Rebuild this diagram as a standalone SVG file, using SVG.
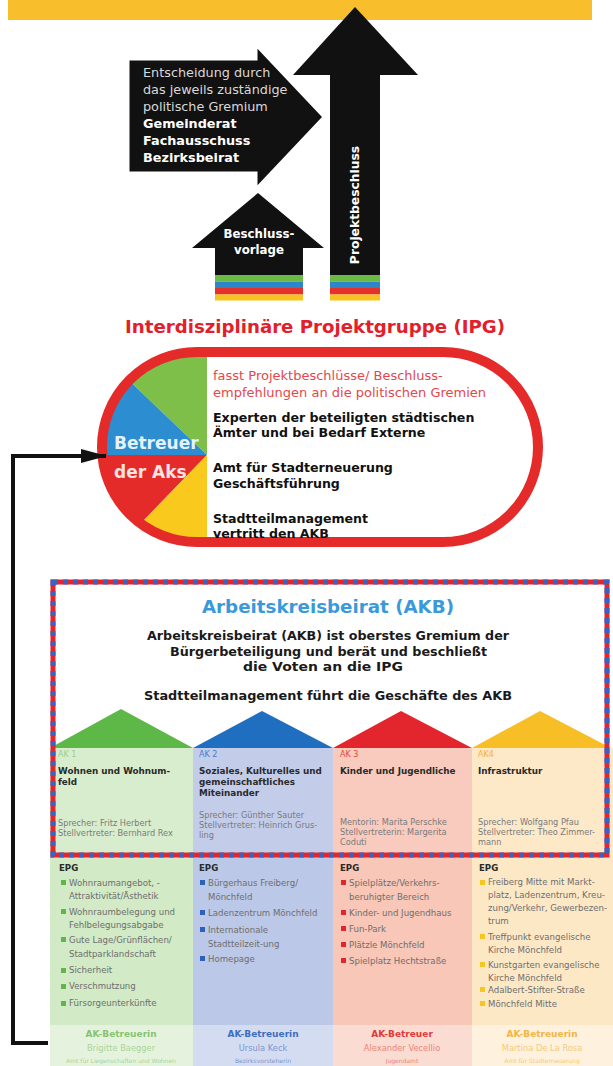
<svg xmlns="http://www.w3.org/2000/svg" width="613" height="1066" viewBox="0 0 613 1066">
<style>
text{font-family:"DejaVu Sans","Liberation Sans",sans-serif;}
.b{font-weight:700}
.wt{fill:#ffffff}
.lg{fill:#d9d9d9}
.ipg{fill:#111111;font-weight:700;font-size:12.6px}
.akb{fill:#1a1a1a;font-weight:700;font-size:12.6px}
.aknum{font-size:8px}
.aktitle{fill:#2a2a2a;font-weight:700;font-size:8.8px}
.sp{fill:#7a7a7a;font-size:8.2px}
.epg{fill:#2a2a2a;font-weight:700;font-size:8.6px}
.it{fill:#6e6e6e;font-size:8.6px}
.bt{font-weight:700;font-size:9px}
.nm{font-size:8.3px}
.dp{font-size:6px}
</style>
<defs>
<clipPath id="stad"><rect x="102" y="352" width="436" height="190" rx="95" ry="95"/></clipPath>
<marker id="ah" markerWidth="26" markerHeight="14" refX="25" refY="7" orient="auto" markerUnits="userSpaceOnUse" viewBox="0 0 26 14">
<path d="M0,0 L26,7 L0,14 Z" fill="#111"/>
</marker>
</defs>
<rect width="613" height="1066" fill="#ffffff"/>

<g id="banner">
<rect x="8" y="0" width="584" height="20" fill="#F8BE2B"/>
</g>

<g id="projektbeschluss">
<polygon points="355,7 418,75 380,75 380,275 330,275 330,75 293,75" fill="#111111"/>
<rect x="330" y="275" width="50" height="6.5" fill="#6ABA45"/>
<rect x="330" y="281.5" width="50" height="6.5" fill="#2E86C9"/>
<rect x="330" y="288" width="50" height="6.5" fill="#E4312B"/>
<rect x="330" y="294.5" width="50" height="6" fill="#F8C21F"/>
<text class="b wt" font-size="12.3" transform="translate(355,205) rotate(-90)" text-anchor="middle" dominant-baseline="central">Projektbeschluss</text>
</g>

<g id="entscheidung">
<polygon points="128,59 256,59 256,45 324,117 256,189 256,173 128,173" fill="#111111" stroke="#ffffff" stroke-width="3" stroke-linejoin="miter"/>
<text class="lg" font-size="12.8" x="143" y="77">Entscheidung durch</text>
<text class="lg" font-size="12.8" x="143" y="94">das jeweils zuständige</text>
<text class="lg" font-size="12.8" x="143" y="111">politische Gremium</text>
<text class="b wt" font-size="12.8" x="143" y="128">Gemeinderat</text>
<text class="b wt" font-size="12.8" x="143" y="145">Fachausschuss</text>
<text class="b wt" font-size="12.8" x="143" y="162">Bezirksbeirat</text>
</g>

<g id="beschlussvorlage">
<polygon points="258,193 324,248 303,248 303,275 215,275 215,248 192,248" fill="#111111"/>
<rect x="215" y="275" width="88" height="6.5" fill="#6ABA45"/>
<rect x="215" y="281.5" width="88" height="6.5" fill="#2E86C9"/>
<rect x="215" y="288" width="88" height="6.5" fill="#E4312B"/>
<rect x="215" y="294.5" width="88" height="6" fill="#F8C21F"/>
<text class="b wt" font-size="11.8" x="259" y="238" text-anchor="middle">Beschluss-</text>
<text class="b wt" font-size="11.8" x="259" y="254" text-anchor="middle">vorlage</text>
</g>

<g id="ipg">
<text class="b" font-size="17.5" fill="#E3202A" x="125" y="333" textLength="380" lengthAdjust="spacingAndGlyphs">Interdisziplinäre Projektgruppe (IPG)</text>
<rect x="102" y="352" width="436" height="190" rx="95" ry="95" fill="#ffffff"/>
<g clip-path="url(#stad)">
<polygon points="207,455 207,300 50,300 50,305" fill="#7DBF48"/>
<polygon points="207,455 50,305 50,455" fill="#2C8DD0"/>
<polygon points="207,455 50,455 50,617" fill="#E52A2A"/>
<polygon points="207,455 50,617 50,660 207,660" fill="#F9C91E"/>
</g>
<rect x="102" y="352" width="436" height="190" rx="95" ry="95" fill="none" stroke="#E52A2A" stroke-width="10"/>
<text class="b" font-size="17" fill="#e6f2fb" x="114" y="449">Betreuer</text>
<text class="b" font-size="17" fill="#fbe3e1" x="114" y="478">der Aks</text>
<text font-size="13" fill="#E5464B" x="213" y="380">fasst Projektbeschlüsse/ Beschluss-</text>
<text font-size="13" fill="#E5464B" x="213" y="397">empfehlungen an die politischen Gremien</text>
<text class="ipg" x="213" y="422">Experten der beteiligten städtischen</text>
<text class="ipg" x="213" y="437">Ämter und bei Bedarf Externe</text>
<text class="ipg" x="213" y="472">Amt für Stadterneuerung</text>
<text class="ipg" x="213" y="488">Geschäftsführung</text>
<text class="ipg" x="213" y="523">Stadtteilmanagement</text>
<text class="ipg" x="213" y="538">vertritt den AKB</text>
</g>

<g id="ak1">
<rect x="50" y="748" width="143" height="107" fill="#D8EDCE"/>
<rect x="50" y="855" width="143" height="170" fill="#D2EAC5"/>
<rect x="50" y="1025" width="143" height="41" fill="#E5F3DE"/>
<polygon points="50,748 121,709 193,748" fill="#5DB847"/>
<text class="aknum" fill="#9ccf88" x="58" y="757">AK 1</text>
<text class="aktitle" x="58" y="774">Wohnen und Wohnum-</text>
<text class="aktitle" x="58" y="785">feld</text>
<text class="sp" x="58" y="826">Sprecher: Fritz Herbert</text>
<text class="sp" x="58" y="836">Stellvertreter: Bernhard Rex</text>
<text class="epg" x="59" y="871">EPG</text>
<g fill="#5DB847">
<rect x="61" y="880" width="5" height="5"/><rect x="61" y="909" width="5" height="5"/><rect x="61" y="937" width="5" height="5"/>
<rect x="61" y="968" width="5" height="5"/><rect x="61" y="984" width="5" height="5"/><rect x="61" y="1001" width="5" height="5"/>
</g>
<text class="it" x="69" y="886">Wohnraumangebot, -</text>
<text class="it" x="69" y="899">Attraktivität/Ästhetik</text>
<text class="it" x="69" y="915">Wohnraumbelegung und</text>
<text class="it" x="69" y="928">Fehlbelegungsabgabe</text>
<text class="it" x="69" y="943">Gute Lage/Grünflächen/</text>
<text class="it" x="69" y="957">Stadtparklandschaft</text>
<text class="it" x="69" y="973">Sicherheit</text>
<text class="it" x="69" y="989">Verschmutzung</text>
<text class="it" x="69" y="1006">Fürsorgeunterkünfte</text>
<text class="bt" fill="#86c472" x="121" y="1037" text-anchor="middle">AK-Betreuerin</text>
<text class="nm" fill="#a9d49a" x="121" y="1051" text-anchor="middle">Brigitte Baegger</text>
<text class="dp" fill="#a9d49a" x="121" y="1063" text-anchor="middle">Amt für Liegenschaften und Wohnen</text>
</g>

<g id="ak2">
<rect x="193" y="748" width="140" height="107" fill="#C3CDEA"/>
<rect x="193" y="855" width="140" height="170" fill="#BCC8E7"/>
<rect x="193" y="1025" width="140" height="41" fill="#D3DCF1"/>
<polygon points="193,748 262,711 333,748" fill="#1F6EBF"/>
<text class="aknum" fill="#3f7fd0" x="199" y="757">AK 2</text>
<text class="aktitle" x="199" y="774">Soziales, Kulturelles und</text>
<text class="aktitle" x="199" y="785">gemeinschaftliches</text>
<text class="aktitle" x="199" y="796">Miteinander</text>
<text class="sp" x="199" y="818">Sprecher: Günther Sauter</text>
<text class="sp" x="199" y="828">Stellvertreter: Heinrich Grus-</text>
<text class="sp" x="199" y="838">ling</text>
<text class="epg" x="199" y="871">EPG</text>
<g fill="#2A63B8">
<rect x="200" y="880" width="5" height="5"/><rect x="200" y="910" width="5" height="5"/><rect x="200" y="927" width="5" height="5"/><rect x="200" y="956" width="5" height="5"/>
</g>
<text class="it" x="208" y="886">Bürgerhaus Freiberg/</text>
<text class="it" x="208" y="900">Mönchfeld</text>
<text class="it" x="208" y="916">Ladenzentrum Mönchfeld</text>
<text class="it" x="208" y="933">Internationale</text>
<text class="it" x="208" y="947">Stadtteilzeit-ung</text>
<text class="it" x="208" y="962">Homepage</text>
<text class="bt" fill="#3e6ec0" x="263" y="1037" text-anchor="middle">AK-Betreuerin</text>
<text class="nm" fill="#7d97cf" x="263" y="1051" text-anchor="middle">Ursula Keck</text>
<text class="dp" fill="#7d97cf" x="263" y="1063" text-anchor="middle">Bezirksvorsteherin</text>
</g>

<g id="ak3">
<rect x="333" y="748" width="139" height="107" fill="#F8CBBE"/>
<rect x="333" y="855" width="139" height="170" fill="#F8C7B8"/>
<rect x="333" y="1025" width="139" height="41" fill="#FBDCD2"/>
<polygon points="333,748 401,711 472,748" fill="#E3262D"/>
<text class="aknum" fill="#e04a3a" x="340" y="757">AK 3</text>
<text class="aktitle" x="340" y="774">Kinder und Jugendliche</text>
<text class="sp" x="340" y="825">Mentorin: Marita Perschke</text>
<text class="sp" x="340" y="835">Stellvertreterin: Margerita</text>
<text class="sp" x="340" y="845">Coduti</text>
<text class="epg" x="340" y="871">EPG</text>
<g fill="#E3262D">
<rect x="341" y="880" width="5" height="5"/><rect x="341" y="910" width="5" height="5"/><rect x="341" y="926" width="5" height="5"/><rect x="341" y="942" width="5" height="5"/><rect x="341" y="958" width="5" height="5"/>
</g>
<text class="it" x="349" y="886">Spielplätze/Verkehrs-</text>
<text class="it" x="349" y="900">beruhigter Bereich</text>
<text class="it" x="349" y="916">Kinder- und Jugendhaus</text>
<text class="it" x="349" y="932">Fun-Park</text>
<text class="it" x="349" y="948">Plätzle Mönchfeld</text>
<text class="it" x="349" y="964">Spielplatz Hechtstraße</text>
<text class="bt" fill="#e03a3a" x="402" y="1037" text-anchor="middle">AK-Betreuer</text>
<text class="nm" fill="#ec8578" x="402" y="1051" text-anchor="middle">Alexander Vecellio</text>
<text class="dp" fill="#ec8578" x="402" y="1063" text-anchor="middle">Jugendamt</text>
</g>

<g id="ak4">
<rect x="472" y="748" width="141" height="107" fill="#FDE8C8"/>
<rect x="472" y="855" width="141" height="170" fill="#FDE8C6"/>
<rect x="472" y="1025" width="141" height="41" fill="#FEF2DF"/>
<polygon points="472,748 540,711 611,748" fill="#F7BE25"/>
<text class="aknum" fill="#f3b23a" x="478" y="757">AK4</text>
<text class="aktitle" x="478" y="774">Infrastruktur</text>
<text class="sp" x="478" y="825">Sprecher: Wolfgang Pfau</text>
<text class="sp" x="478" y="835">Stellvertreter: Theo Zimmer-</text>
<text class="sp" x="478" y="845">mann</text>
<text class="epg" x="479" y="871">EPG</text>
<g fill="#F5C520">
<rect x="480" y="880" width="5" height="5"/><rect x="480" y="934" width="5" height="5"/><rect x="480" y="962" width="5" height="5"/><rect x="480" y="987" width="5" height="5"/><rect x="480" y="1001" width="5" height="5"/>
</g>
<text class="it" x="488" y="885">Freiberg Mitte mit Markt-</text>
<text class="it" x="488" y="898">platz, Ladenzentrum, Kreu-</text>
<text class="it" x="488" y="911">zung/Verkehr, Gewerbezen-</text>
<text class="it" x="488" y="924">trum</text>
<text class="it" x="488" y="940">Treffpunkt evangelische</text>
<text class="it" x="488" y="953">Kirche Mönchfeld</text>
<text class="it" x="488" y="968">Kunstgarten evangelische</text>
<text class="it" x="488" y="981">Kirche Mönchfeld</text>
<text class="it" x="488" y="993">Adalbert-Stifter-Straße</text>
<text class="it" x="488" y="1007">Mönchfeld Mitte</text>
<text class="bt" fill="#f2b545" x="542" y="1037" text-anchor="middle">AK-Betreuerin</text>
<text class="nm" fill="#f5c97a" x="542" y="1051" text-anchor="middle">Martina De La Rosa</text>
<text class="dp" fill="#f5c97a" x="542" y="1063" text-anchor="middle">Amt für Stadterneuerung</text>
</g>

<g id="akb">
<rect x="53" y="582" width="554" height="273" fill="none" stroke="#E3262D" stroke-width="5"/>
<rect x="53" y="582" width="554" height="273" fill="none" stroke="#3A63C0" stroke-width="5" stroke-dasharray="5 5"/>
<text class="b" font-size="18" fill="#3A9AD9" x="202" y="613" textLength="252" lengthAdjust="spacingAndGlyphs">Arbeitskreisbeirat (AKB)</text>
<text class="akb" x="147" y="640" textLength="362" lengthAdjust="spacingAndGlyphs">Arbeitskreisbeirat (AKB) ist oberstes Gremium der</text>
<text class="akb" x="170" y="655.5" textLength="317" lengthAdjust="spacingAndGlyphs">Bürgerbeteiligung und berät und beschließt</text>
<text class="akb" x="243" y="670.5" textLength="160" lengthAdjust="spacingAndGlyphs">die Voten an die IPG</text>
<text class="akb" x="144" y="700" textLength="368" lengthAdjust="spacingAndGlyphs">Stadtteilmanagement führt die Geschäfte des AKB</text>
</g>

<g id="connectors">
<polyline points="48,1043 13,1043 13,456 106,456" fill="none" stroke="#111" stroke-width="4" marker-end="url(#ah)"/>
</g>
</svg>
